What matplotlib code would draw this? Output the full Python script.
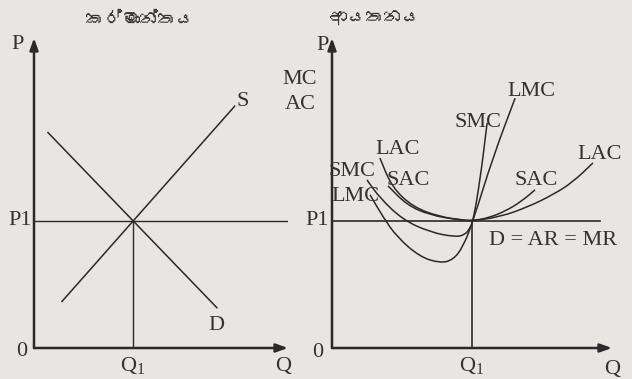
import matplotlib
matplotlib.use("Agg")
import matplotlib.pyplot as plt
from matplotlib.path import Path
from matplotlib.patches import PathPatch
from matplotlib import font_manager
from matplotlib.ft2font import FT2Font

# ---------------- data ----------------
title_left = "කර්මාන්තය"
title_right = "ආයතනය"

# industry (left panel)
ind_Q1 = 3.9
ind_P1 = 4.1
supply_q = [1.1, 7.9]
supply_p = [1.5, 7.8]
demand_q = [0.55, 7.2]
demand_p = [6.95, 1.3]

# firm (right panel)
firm_Q1 = 5.0
firm_P1 = 4.1
dar_end = 9.57
lac_q = [1.71, 2.14, 2.89, 3.86, 4.68, 5.0, 6.0, 7.0, 7.9, 8.6, 9.32]
lac_p = [6.13, 5.19, 4.55, 4.23, 4.13, 4.1, 4.23, 4.55, 4.95, 5.35, 5.97]
sac_q = [2.0, 2.68, 3.5, 4.46, 5.0, 5.6, 6.2, 6.75, 7.25]
sac_p = [5.23, 4.61, 4.29, 4.14, 4.1, 4.2, 4.42, 4.72, 5.1]
smc_q = [1.25, 1.71, 2.54, 3.5, 4.39, 4.75, 4.93, 5.04, 5.29, 5.54]
smc_p = [5.42, 4.84, 4.13, 3.74, 3.58, 3.65, 3.87, 4.1, 5.42, 7.26]
lmc_q = [1.36, 1.82, 2.32, 3.14, 3.86, 4.32, 4.68, 5.04, 5.75, 6.54]
lmc_p = [4.94, 4.23, 3.58, 2.94, 2.74, 2.84, 3.26, 4.1, 6.16, 8.06]

# ---------------- fonts ----------------
def find_font(sample):
    for fe in font_manager.fontManager.ttflist:
        try:
            cm = FT2Font(fe.fname).get_charmap()
        except Exception:
            continue
        if all(ord(c) in cm for c in sample):
            return fe.name
    return None

sinhala = find_font("කර්මාන්තයආ")
title_family = ([sinhala] if sinhala else []) + ["Noto Sans", "DejaVu Sans"]

plt.rcParams["font.family"] = ["Liberation Serif", "DejaVu Serif"]
plt.rcParams["mathtext.fontset"] = "custom"
plt.rcParams["mathtext.rm"] = "Liberation Serif"

BG = "#e8e6e2"
INK = "#2a2a2a"
TXT = "#333333"
FS = 16

fig = plt.figure(figsize=(6.32, 3.79), dpi=100, facecolor=BG)

def make_ax(left_px, right_px):
    W, H = 632, 379
    ax = fig.add_axes([left_px / W, (H - 348) / H, (right_px - left_px) / W, 310 / H])
    ax.set_xlim(0, 10)
    ax.set_ylim(0, 10)
    ax.axis("off")
    ax.patch.set_alpha(0)
    for (x0, y0, x1, y1) in [(0, 0, 10, 0), (0, 0, 0, 10)]:
        ax.annotate("", xy=(x1, y1), xytext=(x0, y0), xycoords="data",
                    arrowprops=dict(arrowstyle="-|>,head_length=0.7,head_width=0.25",
                                    color=INK, lw=1.8, shrinkA=0, shrinkB=0),
                    annotation_clip=False)
    return ax

def smooth(ax, xs, ys, lw=1.1):
    pts = list(zip(xs, ys))
    verts = [pts[0]]
    codes = [Path.MOVETO]
    mids = [((pts[i][0] + pts[i + 1][0]) / 2, (pts[i][1] + pts[i + 1][1]) / 2)
            for i in range(len(pts) - 1)]
    verts.append(mids[0]); codes.append(Path.LINETO)
    for i in range(1, len(pts) - 1):
        verts += [pts[i], mids[i]]
        codes += [Path.CURVE3, Path.CURVE3]
    verts.append(pts[-1]); codes.append(Path.LINETO)
    ax.add_patch(PathPatch(Path(verts, codes), fill=False, ec=INK, lw=lw,
                           clip_on=False))

def t(ax, x, y, s, ha="center", va="center", fs=FS):
    ax.text(x, y, s, ha=ha, va=va, fontsize=fs, color=TXT, clip_on=False)

# ---------------- left: industry ----------------
axL = make_ax(34, 288)
axL.plot([0, 10], [ind_P1, ind_P1], color=INK, lw=1.0)
axL.plot([ind_Q1, ind_Q1], [0, ind_P1], color=INK, lw=1.0)
axL.plot(supply_q, supply_p, color=INK, lw=1.1)
axL.plot(demand_q, demand_p, color=INK, lw=1.1)
t(axL, -0.63, 9.8, "P")
t(axL, -0.1, ind_P1, "P1", ha="right")
t(axL, -0.47, -0.1, "0")
t(axL, ind_Q1, -0.6, r"Q$_\mathregular{1}$")
t(axL, 9.8, -0.6, "Q")
t(axL, 8.23, 7.94, "S")
t(axL, 7.17, 0.74, "D")

# ---------------- right: firm ----------------
axR = make_ax(332, 612)
axR.plot([0, dar_end], [firm_P1, firm_P1], color=INK, lw=1.2)
axR.plot([firm_Q1, firm_Q1], [0, firm_P1], color=INK, lw=1.2)
for q, p in [(lac_q, lac_p), (sac_q, sac_p), (smc_q, smc_p), (lmc_q, lmc_p)]:
    smooth(axR, q, p)
t(axR, -0.1, 9.77, "P", ha="right")
t(axR, -1.14, 8.65, "MC")
t(axR, -1.14, 7.87, "AC")
t(axR, -0.1, firm_P1, "P1", ha="right")
t(axR, -0.5, -0.13, "0")
t(axR, firm_Q1, -0.6, r"Q$_\mathregular{1}$")
t(axR, 10.0, -0.68, "Q")
t(axR, 2.36, 6.39, "LAC")
t(axR, 0.71, 5.68, "SMC")
t(axR, 2.71, 5.39, "SAC")
t(axR, 0.82, 4.9, "LMC")
t(axR, 7.14, 8.29, "LMC")
t(axR, 5.21, 7.29, "SMC")
t(axR, 7.29, 5.39, "SAC")
t(axR, 9.57, 6.23, "LAC")
t(axR, 7.89, 3.48, "D = AR = MR")

fig.text(140 / 632, 1 - 20 / 379, title_left, ha="center", va="center",
         fontsize=13, color=TXT, family=title_family)
fig.text(375 / 632, 1 - 18 / 379, title_right, ha="center", va="center",
         fontsize=13, color=TXT, family=title_family)

fig.savefig("out.png", dpi=100, facecolor=BG)
